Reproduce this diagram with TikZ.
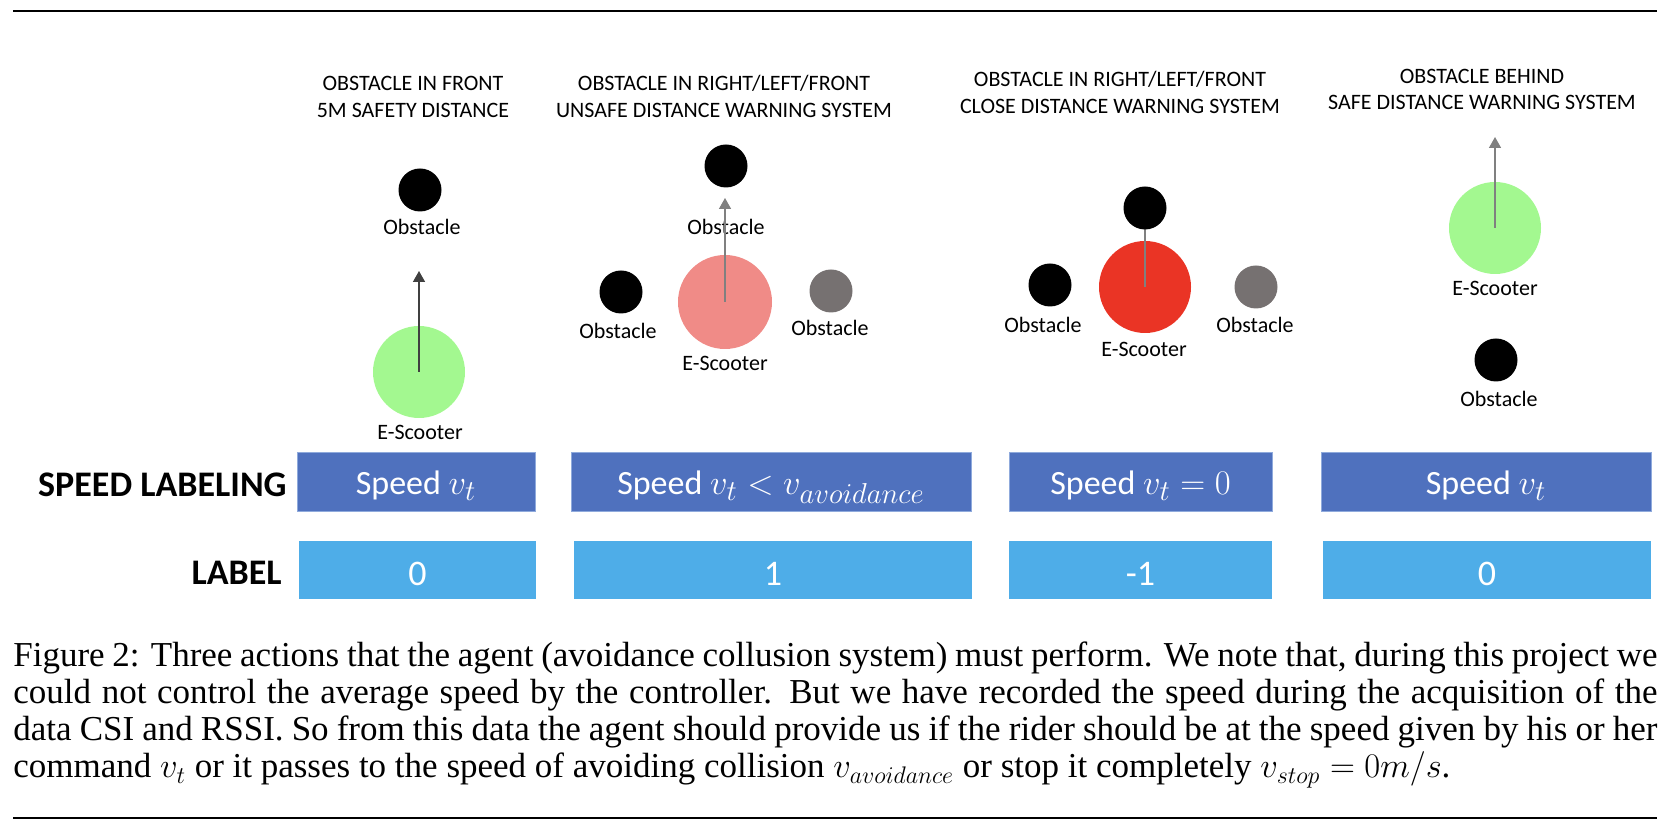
\documentclass[tikz,border=0pt]{standalone}
\usepackage{fontspec}
\setmainfont{Liberation Serif}
\newfontfamily\carl{Carlito}
\usetikzlibrary{arrows.meta}
\DeclareMathSizes{17}{17}{13.5}{11}
\definecolor{scgreen}{HTML}{A3F890}
\definecolor{scpink}{HTML}{F08B87}
\definecolor{scred}{HTML}{EA3425}
\definecolor{obgray}{HTML}{767171}
\definecolor{spblue}{HTML}{4F71BE}
\definecolor{spedge}{HTML}{8FAADC}
\definecolor{lbblue}{HTML}{4EADE8}
\definecolor{arrdark}{HTML}{404040}
\definecolor{arrgray}{HTML}{808080}
\begin{document}
\begin{tikzpicture}[x=0.5pt,y=-0.5pt,
  obst/.style={circle, fill=black, minimum size=21.5pt, inner sep=0pt},
  gobst/.style={obst, fill=obgray},
  scoot/.style={circle, minimum size=46pt, inner sep=0pt},
  lbl/.style={font=\carl\fontsize{11pt}{13pt}\selectfont, inner sep=0pt, anchor=base},
  mv/.style={draw=arrgray, line width=0.75pt, -{Triangle[length=5.5pt,width=6pt]}},
  speedbox/.style={rectangle, fill=spblue, draw=spedge, line width=0.5pt, minimum height=29.5pt, inner sep=0pt, text=white, font=\carl\fontsize{17pt}{20pt}\selectfont, text height=12.5pt, text depth=0pt},
  labbox/.style={rectangle, fill=lbblue, minimum height=29pt, inner sep=0pt, text=white, font=\carl\fontsize{18pt}{20pt}\selectfont, text height=15.5pt, text depth=0pt},
  rowhead/.style={font=\carl\bfseries\fontsize{18pt}{20pt}\selectfont, anchor=base east, inner sep=0pt},
  capline/.style={font=\fontsize{17.5pt}{19pt}\selectfont, anchor=base west, inner sep=0pt}
]
\useasboundingbox (0,0) rectangle (1676,838);
% rules
\draw[line width=0.6pt] (13,11) -- (1657,11);
\draw[line width=0.6pt] (13,818) -- (1657,818);

% titles
\node[lbl] (t1a) at (413,91) {OBSTACLE IN FRONT};
\node[lbl] (t1b) at (413,118) {5M SAFETY DISTANCE};
\node[lbl] (t2a) at (724,91) {OBSTACLE IN RIGHT/LEFT/FRONT};
\node[lbl] (t2b) at (724,118) {UNSAFE DISTANCE WARNING SYSTEM};
\node[lbl] (t3a) at (1120,87) {OBSTACLE IN RIGHT/LEFT/FRONT};
\node[lbl] (t3b) at (1120,114) {CLOSE DISTANCE WARNING SYSTEM};
\node[lbl] (t4a) at (1482,84) {OBSTACLE BEHIND};
\node[lbl] (t4b) at (1482,110) {SAFE DISTANCE WARNING SYSTEM};

% panel 1
\node[obst] (o1) at (420,190) {};
\node[lbl] (o1l) at (422,235) {Obstacle};
\node[scoot, fill=scgreen] (s1) at (419,372) {};
\node[lbl] (s1l) at (420,440) {E-Scooter};
\coordinate (a1) at (419,271);
\draw[mv, draw=arrdark] (s1.center) -- (a1);

% panel 2
\node[obst] (o2t) at (726,166) {};
\node[lbl] (o2tl) at (726,235) {Obstacle};
\node[obst] (o2l) at (621,292) {};
\node[lbl] (o2ll) at (618,339) {Obstacle};
\node[gobst] (o2r) at (831,291) {};
\node[lbl] (o2rl) at (830,336) {Obstacle};
\node[scoot, fill=scpink, minimum size=47pt] (s2) at (725,302) {};
\node[lbl] (s2l) at (725,371) {E-Scooter};
\coordinate (a2) at (725,198);
\draw[mv] (s2.center) -- (a2);

% panel 3
\node[obst] (o3l) at (1050,285) {};
\node[lbl] (o3ll) at (1043,333) {Obstacle};
\node[scoot, fill=scred] (s3) at (1145,287) {};
\node[lbl] (s3l) at (1144,357) {E-Scooter};
\coordinate (c3t) at (1145,208);
\draw[mv] (s3.center) -- (c3t);
\node[obst] (o3t) at (c3t) {};
\node[gobst] (o3r) at (1256,287) {};
\node[lbl] (o3rl) at (1255,333) {Obstacle};

% panel 4
\node[scoot, fill=scgreen] (s4) at (1495,228) {};
\node[lbl] (s4l) at (1495,296) {E-Scooter};
\coordinate (a4) at (1495,137);
\draw[mv] (s4.center) -- (a4);
\node[obst] (o4) at (1496,360) {};
\node[lbl] (o4l) at (1499,407) {Obstacle};

% rows
\node[rowhead] (rh1) at (287,497) {SPEED LABELING};
\node[rowhead] (rh2) at (282,585) {LABEL};

\node[speedbox, minimum width=119pt] (sb1) at (416,482.5) {Speed $v_t$};
\node[speedbox, minimum width=200pt] (sb2) at (771,482.5) {Speed $v_t < v_{avoidance}$};
\node[speedbox, minimum width=131.5pt] (sb3) at (1140.5,482.5) {Speed $v_t = 0$};
\node[speedbox, minimum width=165pt] (sb4) at (1486,482.5) {Speed $v_t$};

\node[labbox, minimum width=118.5pt] (lb1) at (417.5,570) {0};
\node[labbox, minimum width=199pt] (lb2) at (773,570) {1};
\node[labbox, minimum width=131.5pt] (lb3) at (1140.5,570) {-1};
\node[labbox, minimum width=164pt] (lb4) at (1487,570) {0};

% caption
\node[capline] (c1) at (13,667) {\makebox[822pt][s]{Figure 2: Three actions that the agent (avoidance collusion system) must perform. We note that, during this project we}};
\node[capline] (c2) at (13,704) {\makebox[822pt][s]{could not control the average speed by the controller. But we have recorded the speed during the acquisition of the}};
\node[capline] (c3) at (13,741) {\makebox[822pt][s]{data CSI and RSSI. So from this data the agent should provide us if the rider should be at the speed given by his or her}};
\node[capline] (c4) at (13,778) {command $v_t$ or it passes to the speed of avoiding collision $v_{avoidance}$ or stop it completely $v_{stop} = 0m/s$.};
\end{tikzpicture}
\end{document}
